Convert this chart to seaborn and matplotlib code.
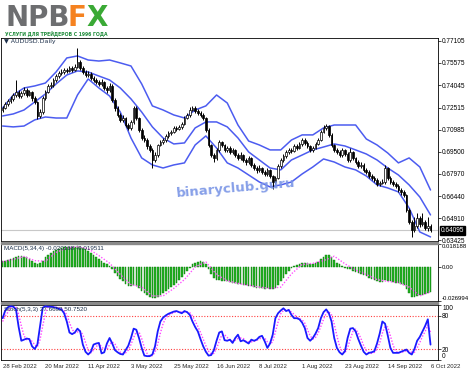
import matplotlib
matplotlib.use("Agg")
import matplotlib.pyplot as plt
import seaborn as sns
import numpy as np
import pandas as pd
from matplotlib.patches import Rectangle

# ---------------- data ----------------
date_labels = ["28 Feb 2022", "20 Mar 2022", "11 Apr 2022", "3 May 2022", "25 May 2022",
               "16 Jun 2022", "8 Jul 2022", "1 Aug 2022", "23 Aug 2022", "14 Sep 2022", "6 Oct 2022"]
date_label_bars = [0, 16, 32, 48, 64, 80, 96, 112, 128, 144, 160]

close = [0.7249,0.7276,0.7297,0.7311,0.7338,0.7359,0.7331,0.7352,0.7372,0.7338,
         0.7359,0.7317,0.7290,0.7194,0.7221,0.7317,0.7359,0.7400,0.7407,0.7441,
         0.7468,0.7489,0.7496,0.7510,0.7503,0.7523,0.7510,0.7530,0.7564,0.7523,
         0.7496,0.7475,0.7482,0.7455,0.7441,0.7427,0.7413,0.7427,0.7386,0.7372,
         0.7400,0.7304,0.7249,0.7201,0.7166,0.7180,0.7132,0.7112,0.7153,0.7249,
         0.7180,0.7098,0.7043,0.7029,0.6988,0.6961,0.6892,0.6926,0.6995,0.7016,
         0.7029,0.7057,0.7077,0.7084,0.7112,0.7105,0.7118,0.7139,0.7180,0.7201,
         0.7235,0.7249,0.7228,0.7214,0.7201,0.7180,0.7098,0.6995,0.6926,0.6906,
         0.6961,0.7016,0.6995,0.6961,0.6974,0.6947,0.6961,0.6926,0.6906,0.6926,
         0.6892,0.6878,0.6906,0.6858,0.6837,0.6823,0.6837,0.6810,0.6796,0.6823,
         0.6782,0.6741,0.6769,0.6851,0.6892,0.6919,0.6947,0.6961,0.6955,0.6988,
         0.6974,0.7002,0.7029,0.7009,0.6988,0.6961,0.6974,0.7002,0.7029,0.7084,
         0.7112,0.7125,0.7064,0.6995,0.6961,0.6947,0.6926,0.6961,0.6933,0.6892,
         0.6947,0.6906,0.6878,0.6851,0.6858,0.6823,0.6810,0.6782,0.6769,0.6755,
         0.6727,0.6732,0.6741,0.6837,0.6769,0.6741,0.6727,0.6714,0.6686,0.6673,
         0.6652,0.6549,0.6467,0.6412,0.6439,0.6494,0.6453,0.6467,0.6426,0.6439,
         0.64095]

open_ = [0.7235,0.7249,0.7276,0.7297,0.7311,0.7338,0.7359,0.7331,0.7352,0.7372,
         0.7338,0.7359,0.7317,0.7290,0.7194,0.7221,0.7317,0.7359,0.7400,0.7407,
         0.7441,0.7468,0.7489,0.7496,0.7510,0.7503,0.7523,0.7510,0.7530,0.7564,
         0.7523,0.7496,0.7475,0.7482,0.7455,0.7441,0.7427,0.7413,0.7427,0.7386,
         0.7372,0.7400,0.7304,0.7249,0.7201,0.7166,0.7180,0.7132,0.7112,0.7153,
         0.7249,0.7180,0.7098,0.7043,0.7029,0.6988,0.6961,0.6892,0.6926,0.6995,
         0.7016,0.7029,0.7057,0.7077,0.7084,0.7112,0.7105,0.7118,0.7139,0.7180,
         0.7201,0.7235,0.7249,0.7228,0.7214,0.7201,0.7180,0.7098,0.6995,0.6926,
         0.6906,0.6961,0.7016,0.6995,0.6961,0.6974,0.6947,0.6961,0.6926,0.6906,
         0.6926,0.6892,0.6878,0.6906,0.6858,0.6837,0.6823,0.6837,0.6810,0.6796,
         0.6823,0.6782,0.6741,0.6769,0.6851,0.6892,0.6919,0.6947,0.6961,0.6955,
         0.6988,0.6974,0.7002,0.7029,0.7009,0.6988,0.6961,0.6974,0.7002,0.7029,
         0.7084,0.7112,0.7125,0.7064,0.6995,0.6961,0.6947,0.6926,0.6961,0.6933,
         0.6892,0.6947,0.6906,0.6878,0.6851,0.6858,0.6823,0.6810,0.6782,0.6769,
         0.6755,0.6727,0.6732,0.6741,0.6837,0.6769,0.6741,0.6727,0.6714,0.6686,
         0.6673,0.6652,0.6549,0.6467,0.6412,0.6439,0.6494,0.6453,0.6467,0.6426,
         0.6439]

high = [0.7262,0.7290,0.7310,0.7330,0.7350,0.7441,0.7375,0.7368,0.7390,0.7385,
        0.7375,0.7365,0.7330,0.7300,0.7240,0.7330,0.7372,0.7415,0.7425,0.7455,
        0.7480,0.7505,0.7515,0.7525,0.7525,0.7540,0.7535,0.7550,0.7660,0.7580,
        0.7535,0.7510,0.7500,0.7495,0.7470,0.7455,0.7440,0.7445,0.7435,0.7400,
        0.7420,0.7410,0.7315,0.7260,0.7215,0.7200,0.7190,0.7145,0.7165,0.7265,
        0.7260,0.7190,0.7110,0.7060,0.7040,0.7000,0.6975,0.6945,0.7005,0.7030,
        0.7045,0.7070,0.7090,0.7100,0.7125,0.7125,0.7135,0.7155,0.7195,0.7215,
        0.7255,0.7265,0.7260,0.7240,0.7230,0.7215,0.7190,0.7110,0.7005,0.6940,
        0.6975,0.7030,0.7025,0.7005,0.6990,0.6985,0.6975,0.6970,0.6940,0.6945,
        0.6935,0.6905,0.6920,0.6915,0.6870,0.6850,0.6855,0.6845,0.6825,0.6840,
        0.6830,0.6790,0.6785,0.6865,0.6905,0.6935,0.6960,0.6975,0.6975,0.7000,
        0.7000,0.7015,0.7045,0.7040,0.7020,0.6995,0.6990,0.7015,0.7045,0.7100,
        0.7130,0.7140,0.7135,0.7075,0.7005,0.6975,0.6960,0.6975,0.6970,0.6945,
        0.6975,0.6955,0.6915,0.6890,0.6875,0.6870,0.6835,0.6820,0.6795,0.6780,
        0.6765,0.6750,0.6760,0.6855,0.6845,0.6780,0.6755,0.6740,0.6725,0.6700,
        0.6685,0.6660,0.6560,0.6480,0.6500,0.6530,0.6510,0.6525,0.6480,0.6500,
        0.6455]

low = [0.7220,0.7240,0.7265,0.7285,0.7300,0.7325,0.7318,0.7320,0.7340,0.7325,
       0.7330,0.7300,0.7275,0.7170,0.7180,0.7210,0.7305,0.7350,0.7385,0.7395,
       0.7430,0.7455,0.7475,0.7485,0.7490,0.7495,0.7495,0.7500,0.7520,0.7510,
       0.7480,0.7460,0.7462,0.7440,0.7428,0.7410,0.7398,0.7400,0.7370,0.7355,
       0.7360,0.7290,0.7230,0.7185,0.7150,0.7150,0.7115,0.7095,0.7100,0.7140,
       0.7165,0.7085,0.7030,0.7015,0.6970,0.6945,0.6840,0.6880,0.6915,0.6985,
       0.7005,0.7015,0.7045,0.7065,0.7075,0.7090,0.7095,0.7105,0.7130,0.7170,
       0.7190,0.7225,0.7215,0.7200,0.7190,0.7165,0.7085,0.6980,0.6910,0.6880,
       0.6895,0.6950,0.6980,0.6945,0.6950,0.6935,0.6935,0.6910,0.6890,0.6895,
       0.6875,0.6860,0.6865,0.6845,0.6820,0.6805,0.6810,0.6795,0.6780,0.6785,
       0.6765,0.6690,0.6725,0.6760,0.6840,0.6880,0.6905,0.6935,0.6940,0.6945,
       0.6960,0.6965,0.6990,0.6995,0.6975,0.6945,0.6950,0.6965,0.6995,0.7020,
       0.7075,0.7100,0.7050,0.6980,0.6945,0.6930,0.6910,0.6915,0.6920,0.6875,
       0.6880,0.6890,0.6865,0.6835,0.6840,0.6810,0.6795,0.6765,0.6755,0.6740,
       0.6710,0.6715,0.6725,0.6730,0.6755,0.6725,0.6710,0.6700,0.6670,0.6655,
       0.6635,0.6535,0.6450,0.6365,0.6400,0.6425,0.6435,0.6440,0.6410,0.6405,
       0.6395]

band_bars = [0,4,8,12,16,20,24,28,32,36,40,44,48,52,56,60,64,68,72,76,80,
             84,88,92,96,100,104,108,112,116,120,124,128,132,136,140,144,148,152,156,160]
bb_upper = [0.7249,0.7338,0.7386,0.7400,0.7420,0.7496,0.7592,0.7606,0.7578,0.7571,0.7578,
            0.7558,0.7537,0.7414,0.7263,0.7235,0.7201,0.7180,0.7235,0.7263,0.7338,
            0.7283,0.7132,0.7022,0.6995,0.6961,0.6961,0.7029,0.7064,0.7064,0.7112,
            0.7132,0.7132,0.7132,0.7036,0.6995,0.6940,0.6872,0.6906,0.6844,0.6686]
bb_mid = [0.7194,0.7208,0.7235,0.7290,0.7345,0.7414,0.7475,0.7503,0.7496,0.7468,0.7441,
          0.7386,0.7311,0.7221,0.7119,0.7043,0.7002,0.7009,0.7112,0.7153,0.7153,
          0.7119,0.7043,0.6947,0.6892,0.6837,0.6824,0.6892,0.6926,0.6961,0.6981,
          0.7002,0.6988,0.6961,0.6933,0.6892,0.6837,0.6789,0.6721,0.6638,0.6515]
bb_lower = [0.7125,0.7119,0.7125,0.7167,0.7187,0.7180,0.7180,0.7338,0.7448,0.7386,0.7331,
            0.7221,0.7043,0.6906,0.6858,0.6837,0.6858,0.6872,0.6995,0.7057,0.6974,
            0.6872,0.6837,0.6789,0.6741,0.6707,0.6721,0.6741,0.6796,0.6844,0.6899,
            0.6878,0.6844,0.6824,0.6782,0.6721,0.6700,0.6673,0.6563,0.6398,0.6364]

macd_hist = [0.0045,0.0050,0.0055,0.0062,0.0070,0.0080,0.0085,0.0085,0.0082,0.0075,
             0.0065,0.0050,0.0035,0.0020,0.0030,0.0050,0.0075,0.0095,0.0110,0.0125,
             0.0135,0.0145,0.0150,0.0155,0.0158,0.0160,0.0160,0.0160,0.0165,0.0160,
             0.0150,0.0140,0.0125,0.0110,0.0095,0.0080,0.0065,0.0050,0.0035,0.0020,
             0.0005,-0.0020,-0.0045,-0.0070,-0.0095,-0.0115,-0.0135,-0.0150,-0.0155,-0.0145,
             -0.0150,-0.0170,-0.0190,-0.0205,-0.0220,-0.0235,-0.0250,-0.0250,-0.0235,-0.0220,
             -0.0205,-0.0190,-0.0175,-0.0160,-0.0145,-0.0125,-0.0105,-0.0080,-0.0055,-0.0030,
             -0.0005,0.0020,0.0035,0.0040,0.0045,0.0040,0.0020,-0.0015,-0.0055,-0.0085,
             -0.0100,-0.0105,-0.0110,-0.0115,-0.0115,-0.0120,-0.0125,-0.0130,-0.0135,-0.0135,
             -0.0140,-0.0145,-0.0150,-0.0155,-0.0160,-0.0165,-0.0165,-0.0170,-0.0172,-0.0170,
             -0.0172,-0.0175,-0.0170,-0.0145,-0.0115,-0.0085,-0.0055,-0.0030,-0.0010,0.0005,
             0.0015,0.0025,0.0035,0.0035,0.0030,0.0025,0.0025,0.0030,0.0040,0.0060,
             0.0080,0.0095,0.0095,0.0075,0.0055,0.0035,0.0020,0.0010,-0.0005,-0.0020,
             -0.0020,-0.0030,-0.0040,-0.0050,-0.0055,-0.0065,-0.0075,-0.0085,-0.0095,-0.0105,
             -0.0115,-0.0120,-0.0120,-0.0105,-0.0110,-0.0115,-0.0120,-0.0125,-0.0130,-0.0135,
             -0.0145,-0.0175,-0.0205,-0.0235,-0.0240,-0.0230,-0.0225,-0.0220,-0.0215,-0.0210,
             -0.0202]
macd_signal = [0.0040,0.0060,0.0083,0.0050,0.0045,0.0115,0.0150,0.0160,0.0145,0.0090,0.0030,
               -0.0060,-0.0140,-0.0160,-0.0230,-0.0230,-0.0170,-0.0100,0.0000,0.0040,-0.0060,
               -0.0110,-0.0130,-0.0145,-0.0160,-0.0170,-0.0160,-0.0055,0.0020,0.0028,0.0050,
               0.0085,0.0025,-0.0025,-0.0060,-0.0100,-0.0115,-0.0122,-0.0160,-0.0230,-0.0195]

stoch_main = [76,90,96,98,97,92,60,35,37,39,38,25,20,28,62,95,98,97,97,96,
              95,93,92,85,70,50,47,50,57,52,28,15,10,15,28,30,31,12,14,30,
              40,30,18,14,11,10,18,26,40,57,55,40,22,8,7,7,10,25,52,70,
              77,81,84,86,88,89,87,85,89,87,82,70,60,52,38,25,15,8,9,18,
              35,50,52,36,35,37,31,40,46,34,36,33,30,37,35,37,42,44,34,22,
              30,46,76,85,90,94,89,91,82,76,76,74,68,58,40,35,40,48,58,76,
              87,92,85,70,40,22,14,10,16,40,57,58,52,38,26,15,10,13,14,16,
              30,48,70,66,45,22,13,13,13,15,17,19,13,10,20,35,42,52,62,74,
              28]
stoch_signal = [70,80,87,95,97,96,83,62,44,37,38,34,28,24,37,62,85,97,97,97,
                96,95,93,90,82,68,56,49,51,53,46,32,18,13,18,24,30,24,19,19,
                28,33,29,21,14,12,13,18,28,41,51,51,39,23,12,7,8,14,29,49,
                66,76,81,84,86,88,88,87,87,87,86,80,71,61,50,38,26,16,11,12,
                21,34,46,46,41,36,34,36,39,40,39,34,33,33,34,36,38,41,40,33,
                29,33,51,69,84,90,91,91,87,83,78,75,73,67,55,44,38,41,49,61,
                74,85,88,82,65,44,25,15,13,22,38,52,56,49,39,26,17,13,12,14,
                20,31,49,61,60,44,27,16,13,14,15,17,16,14,14,22,32,43,52,63,
                51]

price_ticks = [0.77105, 0.75575, 0.74045, 0.72515, 0.70985, 0.69500, 0.67970, 0.66440, 0.64910, 0.63425]
price_tick_labels = ["0.77105", "0.75575", "0.74045", "0.72515", "0.70985", "0.69500",
                     "0.67970", "0.66440", "0.64910", "0.63425"]
last_price = 0.64095
macd_ticks = [0.018188, 0.0, -0.026994]
macd_tick_labels = ["0.018188", "0.00", "-0.026994"]
stoch_ticks = [100, 80, 20, 0]
stoch_levels = [80, 20]

# ---------------- style ----------------
sns.set_style("white")
plt.rcParams["font.family"] = ["Liberation Sans", "DejaVu Sans"]

W, H = 469, 373
fig = plt.figure(figsize=(W / 100, H / 100), dpi=100)
fig.patch.set_facecolor("white")


def rect(l, t, r, b):
    return [l / W, 1 - b / H, (r - l) / W, (b - t) / H]


ax1 = fig.add_axes(rect(1, 38, 438, 241))
ax2 = fig.add_axes(rect(1, 244, 438, 301), sharex=ax1)
ax3 = fig.add_axes(rect(1, 305, 438, 360), sharex=ax1)

n = len(close)
idx = np.arange(n)
YFS = 4.7
XFS = 4.3
LFS = 4.5
BAND_C = "#4c5cf0"
TXT_C = "#1c2f4a"

# ---- main: candles ----
o = np.array(open_); c = np.array(close)
hi = np.array(high); lo = np.array(low)
ax1.vlines(idx, lo, hi, color="black", lw=0.7, zorder=3)
up = c >= o
body_lo = np.minimum(o, c)
body_h = np.maximum(np.abs(c - o), 0.00025)
ax1.bar(idx[up], body_h[up], bottom=body_lo[up], width=0.62, color="white",
        edgecolor="black", linewidth=0.5, zorder=4)
ax1.bar(idx[~up], body_h[~up], bottom=body_lo[~up], width=0.62, color="black",
        edgecolor="black", linewidth=0.5, zorder=4)

bands = pd.DataFrame({"bar": band_bars, "upper": bb_upper, "mid": bb_mid, "lower": bb_lower})
for col in ["upper", "mid", "lower"]:
    sns.lineplot(data=bands, x="bar", y=col, ax=ax1, color=BAND_C, lw=1.1, zorder=2,
                 solid_joinstyle="round")

ax1.axhline(last_price, color="#c8c8c8", lw=0.8, zorder=1)
ax1.set_ylim(0.6336, 0.7729)

# ---- MACD ----
mdf = pd.DataFrame({"bar": idx, "hist": macd_hist})
sns.barplot(data=mdf, x="bar", y="hist", ax=ax2, native_scale=True, color="#22b322",
            edgecolor="#0b7a0b", linewidth=0.3, width=0.6, errorbar=None, saturation=1)
sdf = pd.DataFrame({"bar": band_bars, "sig": macd_signal})
sns.lineplot(data=sdf, x="bar", y="sig", ax=ax2, color="#ff55ff", lw=1.0, linestyle=(0, (1, 1.2)))
ax2.set_ylim(-0.026994, 0.018188)

# ---- Stochastic ----
stdf = pd.DataFrame({"bar": idx, "main": stoch_main, "signal": stoch_signal})
for lv in stoch_levels:
    ax3.axhline(lv, color="#ff4040", lw=0.8, linestyle=(0, (1, 1.5)), zorder=1)
sns.lineplot(data=stdf, x="bar", y="signal", ax=ax3, color="#ff44ff", lw=1.0,
             linestyle=(0, (1, 1.2)), zorder=2)
sns.lineplot(data=stdf, x="bar", y="main", ax=ax3, color="#1a1aff", lw=1.3, zorder=3)
ax3.set_ylim(0, 100)

# ---- axes formatting ----
for ax in (ax1, ax2, ax3):
    ax.set_xlim(-0.6, 162.8)
    ax.set_xlabel("")
    ax.set_ylabel("")
    ax.yaxis.tick_right()
    ax.tick_params(axis="y", labelsize=YFS, length=1.8, width=0.5, pad=1.2, colors="black")
    for s in ax.spines.values():
        s.set_color("black")
        s.set_linewidth(0.6)
    ax.set_facecolor("white")
    ax.grid(False)

ax1.set_yticks(price_ticks)
ax1.set_yticklabels(price_tick_labels)
ax2.set_yticks(macd_ticks)
ax2.set_yticklabels(macd_tick_labels)
ax2.tick_params(axis="y", labelsize=4.3, pad=0.8)
tl = ax2.get_yticklabels()
tl[0].set_va("top"); tl[2].set_va("bottom")
ax3.set_yticks(stoch_ticks)
ax3.set_yticklabels([str(t) for t in stoch_ticks])
tl = ax3.get_yticklabels()
tl[0].set_va("top"); tl[3].set_va("bottom")

ax1.tick_params(axis="x", bottom=False, labelbottom=False)
ax2.tick_params(axis="x", bottom=False, labelbottom=False)
ax3.set_xticks(date_label_bars)
ax3.set_xticklabels(date_labels)
ax3.tick_params(axis="x", labelsize=XFS, length=2, width=0.5, pad=1, direction="out")
for t in ax3.get_xticklabels():
    t.set_ha("left")

# current price box
ax1.annotate(f"{last_price:.5f}", xy=(1.0, last_price), xycoords=("axes fraction", "data"),
             xytext=(2.2, 0), textcoords="offset points", ha="left", va="center",
             fontsize=YFS, color="white",
             bbox=dict(boxstyle="square,pad=0.15", fc="black", ec="black"))

# panel labels
ax1.text(0.007, 0.995, "\u25bc AUDUSD.Daily", transform=ax1.transAxes, ha="left", va="top",
         fontsize=LFS, color=TXT_C, family=["DejaVu Sans"])
ax2.text(0.007, 0.97, "MACD(5,34,4) -0.020168 -0.019511", transform=ax2.transAxes,
         ha="left", va="top", fontsize=LFS, color=TXT_C, zorder=10)
ax3.text(0.007, 0.97, "Stoch(5,3,3) 27.6692 50.7520", transform=ax3.transAxes,
         ha="left", va="top", fontsize=LFS, color=TXT_C, zorder=10)

# panel separators
for top in (241, 301):
    fig.patches.append(Rectangle((1 / W, 1 - (top + 3) / H), 437 / W, 2.5 / H,
                                 transform=fig.transFigure, color="#8a8a8a", zorder=5))

# watermark
fig.text(236 / W, 1 - 188 / H, "binaryclub.guru", ha="center", va="center", fontsize=9.5,
         fontweight="bold", color="#7a95e6", rotation=5, alpha=0.9, family=["DejaVu Sans"])

# logo
LOGO_FONT = ["DejaVu Sans"]
fig.text(5 / W, 1 - 25.5 / H, "NPB", fontsize=20, fontweight="heavy", color="#6d6e70",
         va="baseline", ha="left", family=LOGO_FONT)
fig.text(68 / W, 1 - 25.5 / H, "F", fontsize=20, fontweight="heavy", color="#f58220",
         va="baseline", ha="left", family=LOGO_FONT)
fig.text(86.5 / W, 1 - 25.5 / H, "X", fontsize=20, fontweight="heavy", color="#3aa935",
         va="baseline", ha="left", family=LOGO_FONT)
fig.text(5 / W, 1 - 35.5 / H, "УСЛУГИ ДЛЯ ТРЕЙДЕРОВ С 1996 ГОДА", fontsize=3.3,
         fontweight="bold", color="#1e8c3a", va="baseline", ha="left", family=LOGO_FONT)

fig.savefig("out.png", dpi=100, facecolor="white")
